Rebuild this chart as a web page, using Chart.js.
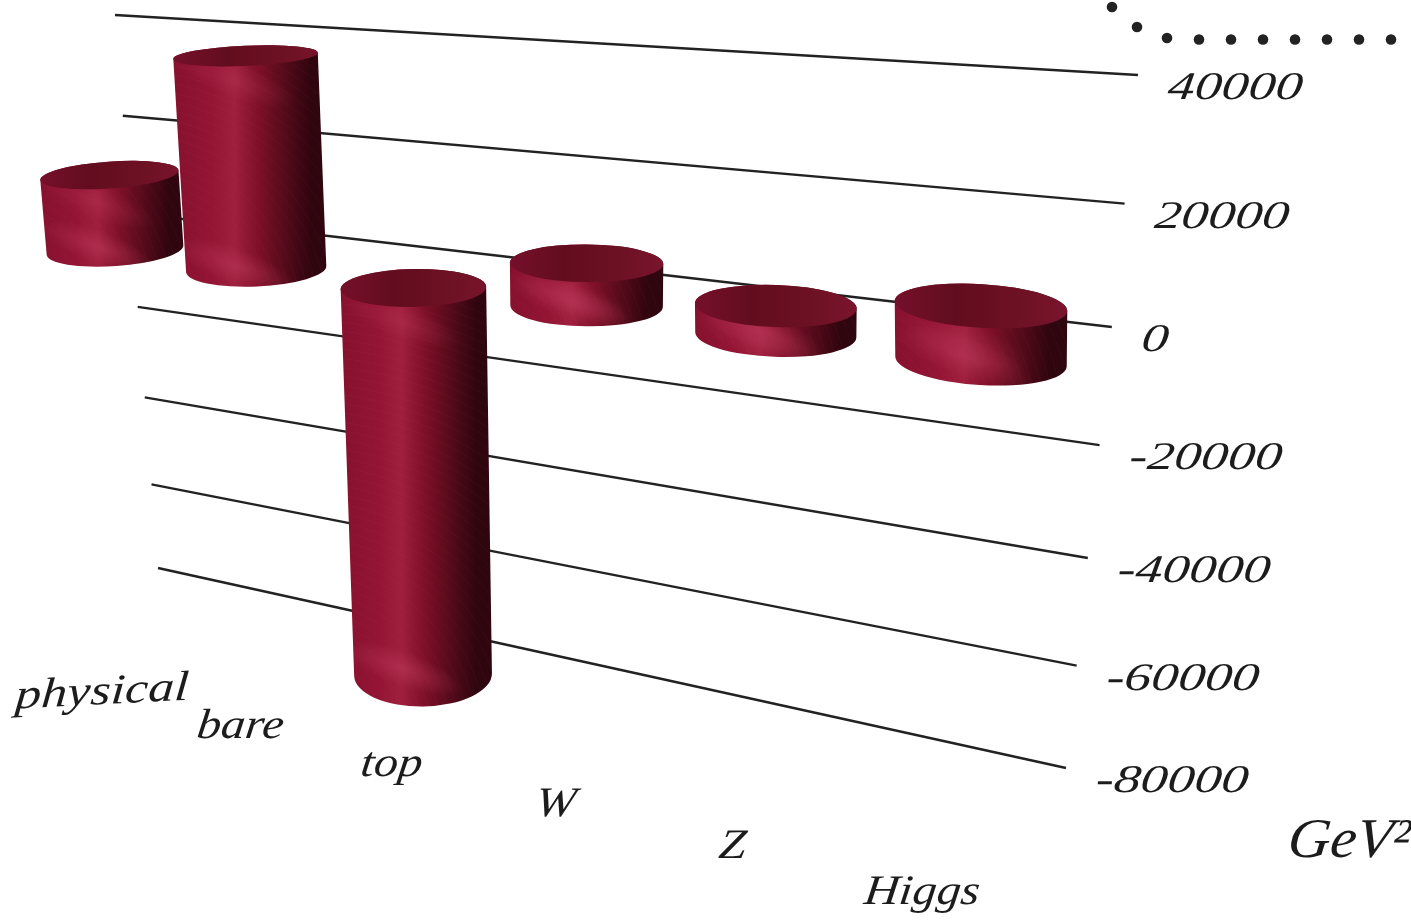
<!DOCTYPE html>
<html>
<head>
<meta charset="utf-8">
<title>Higgs mass contributions</title>
<script src="https://cdn.jsdelivr.net/npm/chart.js@4"></script>
<style>
  html, body { margin: 0; padding: 0; background: #fff; }
  canvas { display: block; }
</style>
</head>
<body>
<canvas id="chart" width="1411" height="921"></canvas>
<script>
const categories = ['physical', 'bare', 'top', 'W', 'Z', 'Higgs'];
const contributions = [15600, 44400, -80500, 8900, -6000, -11500];
const tickValues = [40000, 20000, 0, -20000, -40000, -60000, -80000];
const tickLabels = ['40000', '20000', '0', '-20000', '-40000', '-60000', '-80000'];
const unitLabel = 'GeV²';
// the row of dots in the top right corner
const dotX = [1112, 1137, 1167, 1199, 1231, 1263, 1295, 1327, 1359, 1391];
const dotY = [7, 27, 38, 39.5, 39.5, 39.5, 39.5, 39.5, 39.5, 39.5];

const handFont = '"Liberation Serif"';
const inkColor = '#1c1c1c';

// perspective of the back wall: q is a value in steps of 20000 above zero
function wallLeft(q) {
    const y = 213 - 95.6 * q - 1.71 * q * q;
    return { x: 115 + (y - 15) * 0.0778, y: y };
}
function wallRight(q) {
    const y = 327 - 120.75 * q - 2.625 * q * q;
    return { x: 1138 - (y - 75) * 0.1039, y: y };
}

// where the foot of a bar lands for category number t
function footX(t) { return 115 + 133.2 * t + 8 * t * t; }
function footY(t) { return Math.min(250 + 19 * t, 306); }
function leanOf(t) { return Math.max(0.075 - 0.025 * t, 0); }
function tiltOf(t) { return (-4 + 1.5 * t) * Math.PI / 180; }
function radiusX(t, y) { return 68 + 1.4 * t + 0.46 * t * t + (300 - y) * 0.01; }
function radiusY(t, y) { return 7.5 + 0.034 * y + 0.8 * t; }

function handText(ctx, text, x, y, size, stretch, align, angle) {
    ctx.save();
    ctx.translate(x, y);
    ctx.rotate(angle || 0);
    ctx.transform(stretch, 0, -0.12, 1, 0, 0);
    ctx.font = 'italic ' + size + 'px ' + handFont;
    ctx.fillStyle = inkColor;
    ctx.textAlign = align;
    ctx.textBaseline = 'middle';
    ctx.fillText(text, 0, 0);
    ctx.restore();
}

function drawCylinder(ctx, t, lift) {
    const fx = footX(t), fy = footY(t);
    const top = { x: fx - Math.max(lift, 0) * leanOf(t), y: fy - Math.max(lift, 0) };
    const bottom = { x: fx - Math.min(lift, 0) * leanOf(t), y: fy - Math.min(lift, 0) };
    const rot = tiltOf(t);
    const topRx = radiusX(t, top.y), topRy = radiusY(t, top.y);
    const botRx = radiusX(t, bottom.y), botRy = radiusY(t, bottom.y);
    const cos = Math.cos(rot), sin = Math.sin(rot);

    ctx.save();
    ctx.beginPath();
    ctx.moveTo(top.x - topRx * cos, top.y - topRx * sin);
    ctx.lineTo(bottom.x - botRx * cos, bottom.y - botRx * sin);
    ctx.ellipse(bottom.x, bottom.y, botRx, botRy, rot, Math.PI, 0, true);
    ctx.lineTo(top.x + topRx * cos, top.y + topRx * sin);
    ctx.ellipse(top.x, top.y, topRx, topRy, rot, 0, Math.PI, true);
    ctx.closePath();

    const left = Math.min(top.x - topRx, bottom.x - botRx);
    const right = Math.max(top.x + topRx, bottom.x + botRx);
    const side = ctx.createLinearGradient(left, 0, right, 0);
    side.addColorStop(0, '#86112f');
    side.addColorStop(0.25, '#941435');
    side.addColorStop(0.4, '#9f1f3e');
    side.addColorStop(0.55, '#7f1029');
    side.addColorStop(0.72, '#560b1b');
    side.addColorStop(0.9, '#2f050e');
    side.addColorStop(1, '#2f060f');
    ctx.fillStyle = side;
    ctx.fill();
    ctx.clip();

    // faint curved grain in the surface
    const w = right - left;
    ctx.lineWidth = 1;
    ctx.strokeStyle = 'rgba(235,120,150,0.05)';
    for (let r = 40; r < 900; r += 9) {
        ctx.beginPath();
        ctx.arc(left - w * 0.3, bottom.y + botRy + 40, r, 0, Math.PI * 2);
        ctx.stroke();
    }

    // glossy swoosh near the lower edge and near the cap
    [bottom.y - botRy * 0.2, top.y + topRy + 14].forEach(function (gy, i) {
        const gx = left + w * 0.4;
        ctx.save();
        ctx.translate(gx, gy);
        ctx.rotate(0.35);
        ctx.scale(1, 0.28);
        const glow = ctx.createRadialGradient(0, 0, 0, 0, 0, w * 0.42);
        glow.addColorStop(0, i === 0 ? 'rgba(190,60,95,0.5)' : 'rgba(190,60,95,0.3)');
        glow.addColorStop(1, 'rgba(190,60,95,0)');
        ctx.fillStyle = glow;
        ctx.fillRect(-w, -w, 2 * w, 2 * w);
        ctx.restore();
    });
    ctx.restore();

    // cap
    const cap = ctx.createLinearGradient(left, 0, right, 0);
    cap.addColorStop(0, '#75102a');
    cap.addColorStop(0.35, '#620d1f');
    cap.addColorStop(0.7, '#6c1123');
    cap.addColorStop(1, '#7a142d');
    ctx.beginPath();
    ctx.ellipse(top.x, top.y, topRx, topRy, rot, 0, Math.PI * 2);
    ctx.fillStyle = cap;
    ctx.fill();
}

const perspectivePlugin = {
    id: 'perspective',
    beforeDatasetsDraw(chart) {
        const ctx = chart.ctx;
        const y = chart.scales.y;
        const step = y.getPixelForValue(0) - y.getPixelForValue(20000);
        ctx.save();
        ctx.strokeStyle = '#222';
        ctx.lineWidth = 2.4;
        tickValues.forEach(function (v, i) {
            const q = (y.getPixelForValue(0) - y.getPixelForValue(v)) / step;
            const a = wallLeft(q), b = wallRight(q);
            ctx.beginPath();
            ctx.moveTo(a.x, a.y);
            ctx.lineTo(b.x, b.y);
            ctx.stroke();
            handText(ctx, tickLabels[i], b.x + 30, b.y + 14, 39, 1.38, 'left');
        });
        ctx.restore();
    },
    afterDatasetsDraw(chart) {
        const ctx = chart.ctx;
        const bars = chart.getDatasetMeta(0).data;
        // screen height of a bar relative to its height on the flat y scale
        const depthScale = 0.834;
        bars.forEach(function (bar, t) {
            drawCylinder(ctx, t, (bar.base - bar.y) * depthScale);
        });
        categories.forEach(function (name, t) {
            const lx = 102 + 132 * t + 6.4 * t * t;
            const ly = 693 + 33 * t + 1.4 * t * t;
            handText(ctx, name, lx, ly, 42, t === 0 ? 1.24 : 1.15, 'center', t === 0 ? -0.05 : 0);
        });
        handText(ctx, unitLabel, 1349, 842, 56, 1.05, 'center');
    }
};

new Chart(document.getElementById('chart'), {
    type: 'bar',
    data: {
        labels: categories,
        datasets: [
            {
                label: 'contribution',
                data: contributions,
                backgroundColor: 'rgba(0,0,0,0)',
                borderWidth: 0
            },
            {
                type: 'scatter',
                label: 'dots',
                data: dotX.map(function (x, i) { return { x: x, y: dotY[i] }; }),
                xAxisID: 'dotX',
                yAxisID: 'dotY',
                pointRadius: 5.3,
                pointBackgroundColor: '#222',
                pointBorderWidth: 0,
                showLine: false,
                clip: false
            }
        ]
    },
    options: {
        responsive: false,
        animation: false,
        layout: { padding: 0, autoPadding: false },
        plugins: { legend: { display: false }, tooltip: { enabled: false } },
        scales: {
            x: { display: false },
            y: { display: false, min: -100000, max: 60000 },
            dotX: { type: 'linear', display: false, min: 0, max: 1411, offset: false },
            dotY: { type: 'linear', display: false, min: 0, max: 921, reverse: true, offset: false }
        }
    },
    plugins: [perspectivePlugin]
});
</script>
</body>
</html>
